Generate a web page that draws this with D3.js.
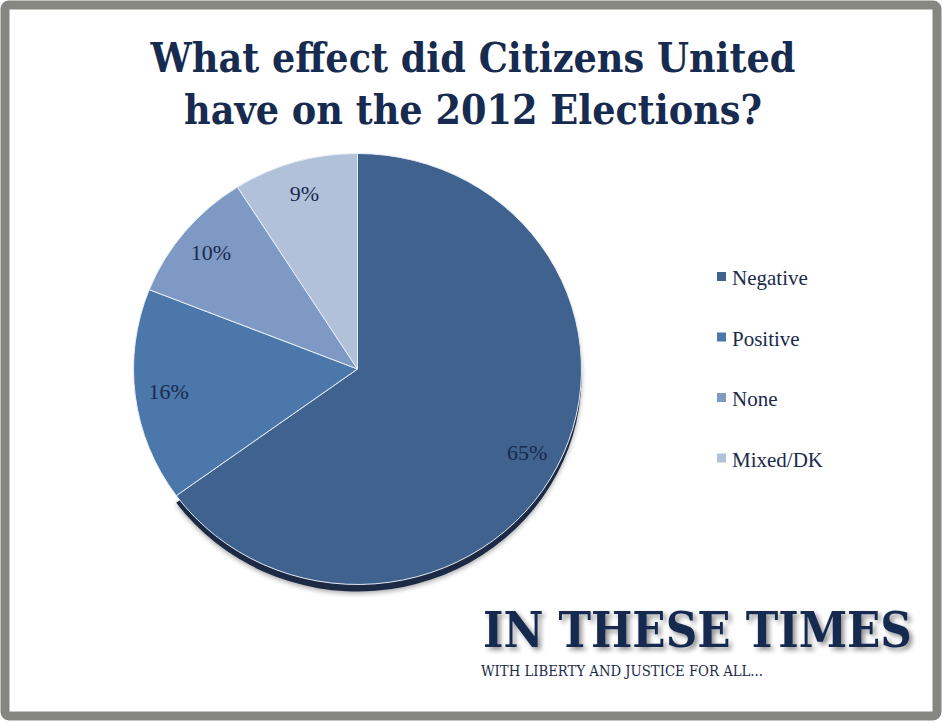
<!DOCTYPE html>
<html>
<head>
<meta charset="utf-8">
<script src="https://cdn.jsdelivr.net/npm/d3@7"></script>
<style>
  html, body { margin: 0; padding: 0; background: #ffffff; }
  svg { display: block; }
</style>
</head>
<body>
<svg id="chart" width="943" height="723"></svg>
<script>
// ---- data ----
const categories = ["Negative", "Positive", "None", "Mixed/DK"];
const values = [65, 16, 10, 9];
const sliceLabels = ["65%", "16%", "10%", "9%"];
const colors = ["#3f628f", "#4b77aa", "#7e9ac4", "#b1c1d9"];
const titleLines = ["What effect did Citizens United", "have on the 2012 Elections?"];
const logoText = "IN THESE TIMES";
const taglineText = "WITH LIBERTY AND JUSTICE FOR ALL...";

const W = 943, H = 723;
const svg = d3.select("#chart");
const defs = svg.append("defs");

function fitSize(sel, baseSize, target) {
  sel.attr("font-size", baseSize);
  const n = sel.node().getComputedTextLength();
  const s = baseSize * target / n;
  sel.attr("font-size", s);
  return s;
}

// soft drop shadow for pie
const f = defs.append("filter").attr("id", "pieShadow").attr("x", "-10%").attr("y", "-10%").attr("width", "120%").attr("height", "125%");
f.append("feGaussianBlur").attr("in", "SourceAlpha").attr("stdDeviation", 2.5).attr("result", "b");
f.append("feOffset").attr("in", "b").attr("dx", 0).attr("dy", 2).attr("result", "o");
f.append("feComponentTransfer").attr("in", "o").attr("result", "o2")
  .append("feFuncA").attr("type", "linear").attr("slope", 0.35);
const fm = f.append("feMerge");
fm.append("feMergeNode").attr("in", "o2");
fm.append("feMergeNode").attr("in", "SourceGraphic");

// logo shadow
const f2 = defs.append("filter").attr("id", "logoShadow").attr("x", "-5%").attr("y", "-30%").attr("width", "115%").attr("height", "170%");
f2.append("feGaussianBlur").attr("in", "SourceAlpha").attr("stdDeviation", 2.5).attr("result", "b");
f2.append("feOffset").attr("in", "b").attr("dx", 3).attr("dy", 3).attr("result", "o");
f2.append("feComponentTransfer").attr("in", "o").attr("result", "o2")
  .append("feFuncA").attr("type", "linear").attr("slope", 0.45);
const fm2 = f2.append("feMerge");
fm2.append("feMergeNode").attr("in", "o2");
fm2.append("feMergeNode").attr("in", "SourceGraphic");

// ---- frame ----
svg.append("rect").attr("x", 0).attr("y", 0).attr("width", W).attr("height", H).attr("fill", "#ffffff");
svg.append("rect")
  .attr("x", 5).attr("y", 5).attr("width", 932).attr("height", 711)
  .attr("rx", 4).attr("fill", "none")
  .attr("stroke", "#878782").attr("stroke-width", 9);

// ---- title ----
const titleColor = "#172a4f";
const condensed = "'DejaVu Serif Condensed', 'DejaVu Serif', serif";
const titleY = [72, 124];
const titles = svg.selectAll("text.title").data(titleLines).join("text")
  .attr("class", "title")
  .attr("x", 473)
  .attr("y", (d, i) => titleY[i])
  .attr("text-anchor", "middle")
  .attr("font-family", condensed)
  .attr("font-stretch", "condensed")
  .attr("font-weight", "bold")
  .attr("fill", titleColor)
  .text(d => d);
const tSize = fitSize(d3.select(titles.nodes()[0]), 48, 645);
titles.attr("font-size", tSize);

// ---- pie ----
const cx = 357.5, cy = 369, r = 224, sy = 0.962;
const pie = d3.pie().sort(null).value(d => d);
const arcs = pie(values);
const arc = d3.arc().innerRadius(0).outerRadius(r);
const labelArc = d3.arc().innerRadius(r * 0.85).outerRadius(r * 0.85);

// dark 3D rim under the Negative slice
svg.append("g")
  .attr("transform", `translate(${cx},${cy + 7}) scale(1,${sy})`)
  .append("path")
  .attr("d", arc(arcs[0]))
  .attr("fill", "#1a2944")
  .attr("filter", "url(#pieShadow)");

const pg = svg.append("g")
  .attr("transform", `translate(${cx},${cy}) scale(1,${sy})`);
pg.selectAll("path.slice").data(arcs).join("path")
  .attr("class", "slice")
  .attr("d", arc)
  .attr("fill", (d, i) => colors[i])
  .attr("stroke", "#e8eef6")
  .attr("stroke-width", 1)
  .attr("stroke-linejoin", "round");

svg.selectAll("text.plabel").data(arcs).join("text")
  .attr("class", "plabel")
  .attr("x", d => cx + labelArc.centroid(d)[0])
  .attr("y", d => cy + labelArc.centroid(d)[1] * sy)
  .attr("text-anchor", "middle")
  .attr("dominant-baseline", "central")
  .attr("font-family", "'Liberation Serif', serif")
  .attr("font-size", 22)
  .attr("fill", "#1a2a4d")
  .text((d, i) => sliceLabels[i]);

// ---- legend ----
const legendX = 717, legendY0 = 272, legendStep = 60.5;
const lg = svg.selectAll("g.leg").data(categories).join("g")
  .attr("class", "leg")
  .attr("transform", (d, i) => `translate(${legendX},${legendY0 + i * legendStep})`);
lg.append("rect").attr("x", 0).attr("y", 0).attr("width", 9).attr("height", 9)
  .attr("fill", (d, i) => colors[i]);
lg.append("text")
  .attr("x", 15).attr("y", 13)
  .attr("font-family", "'Liberation Serif', serif")
  .attr("font-size", 21)
  .attr("fill", "#1a2a4d")
  .text(d => d);

// ---- logo ----
const logo = svg.append("text")
  .attr("x", 483).attr("y", 647)
  .attr("font-family", condensed)
  .attr("font-stretch", "condensed")
  .attr("font-weight", "bold")
  .attr("fill", "#172b50")
  .attr("filter", "url(#logoShadow)")
  .text(logoText);
fitSize(logo, 52, 429);

const tag = svg.append("text")
  .attr("x", 481).attr("y", 676)
  .attr("font-family", condensed)
  .attr("font-stretch", "condensed")
  .attr("fill", "#1a2a4d")
  .text(taglineText);
fitSize(tag, 13, 282);
</script>
</body>
</html>
